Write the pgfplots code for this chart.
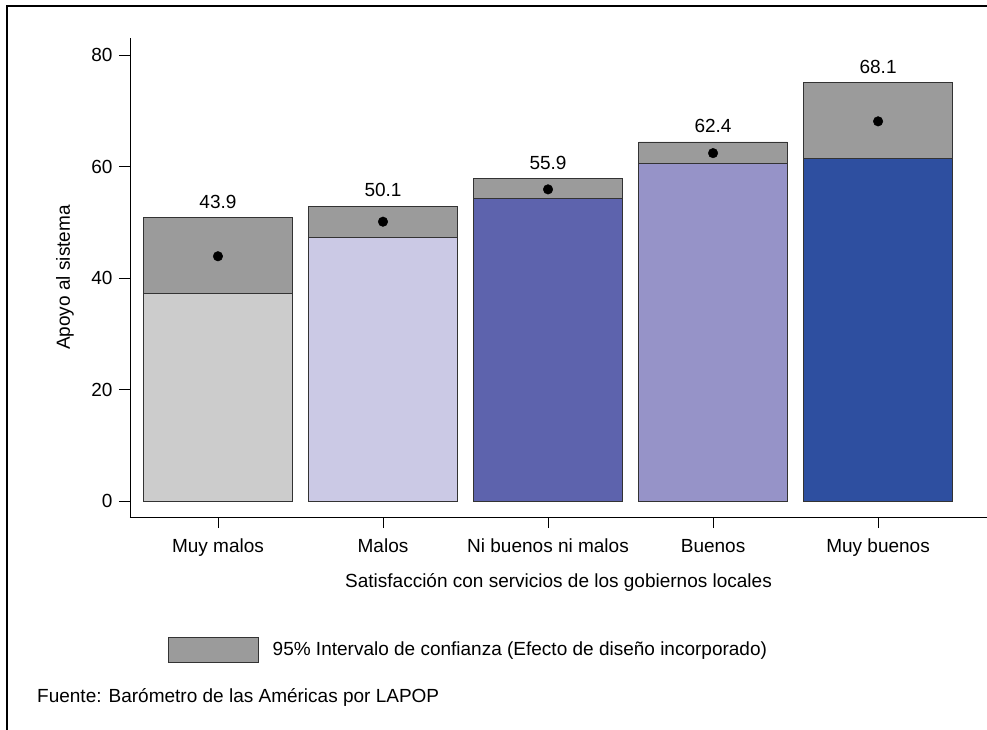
\documentclass[border=0pt]{standalone}
\usepackage{pgfplots}
\pgfplotsset{compat=1.18}
\usepackage{fontspec}
\setmainfont{Liberation Sans}
\definecolor{cA}{HTML}{CCCCCC}
\definecolor{cB}{HTML}{CBC9E5}
\definecolor{cC}{HTML}{5D63AD}
\definecolor{cD}{HTML}{9693C8}
\definecolor{cE}{HTML}{2E4FA0}
\definecolor{ciGray}{HTML}{9B9B9B}
\definecolor{edge}{HTML}{333333}
\begin{document}
\fontsize{19bp}{23bp}\selectfont
\begin{tikzpicture}
\path[use as bounding box] (-130bp,-213bp) rectangle (857bp,517bp);
\draw[line width=1.2bp] (-123bp,-213bp) -- (-123bp,511bp) -- (857bp,511bp);
\begin{axis}[
  at={(0,0)}, anchor=south west,
  scale only axis, width=857bp, height=479bp,
  xmin=-0.533, xmax=4.66, ymin=-2.87, ymax=83.05,
  axis x line*=bottom, axis y line*=left,
  axis line style={-, black, line width=0.8bp},
  xtick={0,1,2,3,4},
  xticklabels={Muy malos, Malos, Ni buenos ni malos, Buenos, Muy buenos},
  xticklabel style={text height=1.6ex, text depth=0.45ex, yshift=-2bp},
  ytick={0,20,40,60,80},
  tick align=outside, major tick length=11bp,
  tick style={black, line width=0.8bp},
  /pgf/number format/assume math mode=true,
  every axis x label/.style={at={(axis description cs:0.5,0)}, yshift=-65bp, anchor=center},
  every axis y label/.style={at={(axis description cs:0,0.5)}, xshift=-65bp, rotate=90, anchor=center},
  xlabel={Satisfacción con servicios de los gobiernos locales},
  ylabel={Apoyo al sistema},
  clip=false,
  legend style={at={(rel axis cs:0.044,-0.278)}, anchor=west, draw=none, fill=none, inner sep=0pt,
    /tikz/every odd column/.append style={column sep=12bp}},
  legend cell align=left,
]
% grey CI bars (0 to upper bound)
\addplot[ybar, bar width=0.9, bar shift=0pt, fill=ciGray, draw=edge, line width=0.8bp,
  legend image code/.code={\draw[fill=ciGray, draw=edge, line width=0.8bp] (0bp,-12.5bp) rectangle (90bp,12.5bp);}]
  coordinates {(0,50.8) (1,52.9) (2,57.8) (3,64.4) (4,75.0)};
\addlegendentry{95\% Intervalo de confianza (Efecto de diseño incorporado)}
% coloured bars (0 to lower bound)
\addplot[ybar, bar width=0.9, bar shift=0pt, fill=cA, draw=edge, line width=0.8bp, forget plot] coordinates {(0,37.3)};
\addplot[ybar, bar width=0.9, bar shift=0pt, fill=cB, draw=edge, line width=0.8bp, forget plot] coordinates {(1,47.2)};
\addplot[ybar, bar width=0.9, bar shift=0pt, fill=cC, draw=edge, line width=0.8bp, forget plot] coordinates {(2,54.2)};
\addplot[ybar, bar width=0.9, bar shift=0pt, fill=cD, draw=edge, line width=0.8bp, forget plot] coordinates {(3,60.6)};
\addplot[ybar, bar width=0.9, bar shift=0pt, fill=cE, draw=edge, line width=0.8bp, forget plot] coordinates {(4,61.5)};
% means
\addplot[only marks, mark=*, mark size=4.8bp, black, forget plot]
  coordinates {(0,43.9) (1,50.1) (2,55.9) (3,62.4) (4,68.1)};
% value labels above upper bound
\addplot[draw=none, mark=none, forget plot, nodes near coords, point meta=explicit symbolic,
  nodes near coords style={anchor=south, yshift=3bp, black}]
  table[meta=lab] {
x y lab
0 50.8 43.9
1 52.9 50.1
2 57.8 55.9
3 64.4 62.4
4 75.0 68.1
};
\end{axis}
\node[anchor=west, inner sep=0pt] at (-93bp,-180bp) {Fuente: Barómetro de las Américas por LAPOP};
\end{tikzpicture}
\end{document}
